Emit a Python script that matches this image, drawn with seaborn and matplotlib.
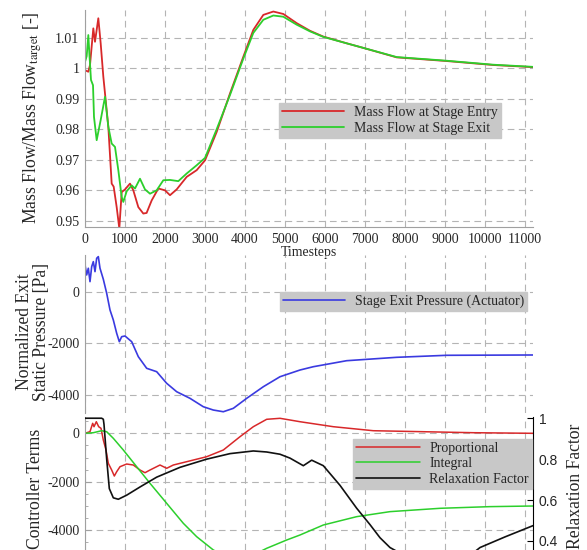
import numpy as np
import pandas as pd
import matplotlib
matplotlib.use("Agg")
import matplotlib.pyplot as plt
from matplotlib.ticker import MultipleLocator, AutoMinorLocator, FuncFormatter
import seaborn as sns

#%% data
# top panel: mass flow ratio
t_entry = [0, 83, 125, 208, 250, 333, 392, 458, 583, 667, 717, 792, 858, 917, 1000, 1125, 1208,
           1333, 1458, 1540, 1667, 1833, 2000, 2125, 2292, 2542, 2792, 3000, 3292, 3625, 3958,
           4208, 4458, 4708, 4958, 5292, 5625, 5958, 6542, 6958, 7792, 9042, 10208, 11200]
mf_entry = [0.9993, 0.9988, 1.001, 1.013, 1.0086, 1.0163, 1.0081, 0.9972, 0.9808, 0.9622, 0.9612,
            0.9545, 0.9475, 0.9594, 0.9603, 0.9622, 0.960, 0.9545, 0.9524, 0.9526, 0.9567, 0.9606,
            0.960, 0.9584, 0.9603, 0.9644, 0.9666, 0.9698, 0.9791, 0.9917, 1.0037, 1.0125, 1.0174,
            1.0185, 1.0177, 1.0147, 1.0122, 1.0103, 1.0081, 1.0066, 1.0035, 1.0023, 1.001, 1.0003]
t_exit = [0, 42, 83, 108, 150, 200, 225, 292, 392, 500, 583, 667, 750, 833, 917, 958, 1042, 1167,
          1250, 1375, 1500, 1625, 1792, 1958, 2125, 2333, 2542, 2792, 3000, 3292, 3625, 3958, 4208,
          4458, 4708, 4958, 5292, 5625, 5958, 6542, 6958, 7792, 9042, 10208, 11200]
mf_exit = [1.002, 1.0039, 1.0108, 1.005, 0.9961, 0.9944, 0.984, 0.9764, 0.983, 0.9906, 0.9808,
           0.9753, 0.9742, 0.9666, 0.9578, 0.9562, 0.9597, 0.9616, 0.9606, 0.9638, 0.9603, 0.9589,
           0.960, 0.9633, 0.9634, 0.963, 0.9655, 0.9682, 0.9706, 0.980, 0.9912, 1.0031, 1.0115,
           1.0158, 1.0172, 1.0168, 1.0142, 1.012, 1.0102, 1.0081, 1.0066, 1.0036, 1.0024, 1.0011, 1.0004]

# middle panel: exit static pressure
t_press = [0, 42, 83, 125, 167, 208, 250, 292, 333, 375, 458, 542, 625, 708, 792, 858, 917, 1000,
           1167, 1333, 1542, 1792, 2042, 2292, 2625, 2958, 3208, 3458, 3708, 4042, 4458, 4875, 5375,
           5708, 6542, 7792, 9042, 11200]
p_exit = [1035, 647, 907, 388, 969, 1163, 775, 1294, 1357, 907, 480, -62, -709, -1097, -1612, -1938,
          -1744, -1717, -1938, -2519, -2969, -3100, -3550, -3876, -4132, -4457, -4585, -4651, -4519,
          -4132, -3682, -3295, -3035, -2907, -2674, -2543, -2465, -2453]

# bottom panel: controller terms + relaxation factor
t_prop = [0, 125, 192, 225, 283, 342, 400, 458, 525, 583, 667, 733, 792, 875, 1042, 1208, 1375, 1500,
          1625, 1875, 2042, 2208, 2542, 3042, 3458, 3875, 4208, 4542, 4875, 5125, 5375, 6208, 7208,
          8458, 9708, 11200]
prop = [0, 69, 413, 273, 479, 273, 207, -277, -690, -1240, -1517, -1765, -1587, -1380, -1269, -1310,
        -1517, -1628, -1517, -1310, -1446, -1310, -1173, -967, -690, -140, 273, 579, 620, 550, 479,
        273, 107, 66, 25, 0]
t_int = [0, 208, 417, 542, 708, 958, 1292, 1625, 2042, 2458, 2792, 3208, 3600, 4000, 4542, 5042,
         5375, 5958, 6792, 7625, 8875, 10125, 11200]
integ = [0, 25, 107, 66, -207, -690, -1380, -2066, -2893, -3719, -4272, -4821, -5150, -5200, -4752,
         -4409, -4202, -3789, -3444, -3237, -3099, -3030, -3004]
t_relax = [0, 417, 458, 475, 542, 608, 708, 833, 1042, 1375, 1792, 2375, 3042, 3625, 4208, 4542,
           4875, 5125, 5458, 5667, 5958, 6375, 6792, 7125, 7375, 7625, 8250, 8900, 9500, 9875,
           10500, 11200]
relax = [1.0, 1.0, 0.995, 0.97, 0.80, 0.656, 0.611, 0.604, 0.624, 0.664, 0.712, 0.760, 0.80, 0.827,
         0.840, 0.835, 0.824, 0.805, 0.768, 0.795, 0.768, 0.672, 0.56, 0.48, 0.416, 0.368, 0.30,
         0.28, 0.31, 0.368, 0.42, 0.475]

RED, GREEN, BLUE, BLACK = '#d8282a', '#2ccf2c', '#3a3ae0', '#111111'
GRID = '#b4b4b4'

#%% style
sns.set_style('white')
plt.rcParams['font.family'] = ['Liberation Serif', 'DejaVu Serif']
plt.rcParams['mathtext.fontset'] = 'stix'
plt.rcParams['axes.unicode_minus'] = False

W, H = 587, 550
fig = plt.figure(figsize=(W / 100, H / 100), dpi=100)


def box(x0, y0, x1, y1):
    # pixel box (top-left origin) -> figure fraction rect
    return [x0 / W, 1 - y1 / H, (x1 - x0) / W, (y1 - y0) / H]


def style_axis(ax):
    ax.patch.set_visible(False)
    ax.grid(True, color=GRID, linestyle=(0, (6, 4)), linewidth=0.8)
    for s in ['top', 'right']:
        ax.spines[s].set_visible(False)
    for s in ['left', 'bottom']:
        ax.spines[s].set_color('#a0a0a0')
        ax.spines[s].set_linewidth(0.8)
    ax.xaxis.set_major_locator(MultipleLocator(1000))
    ax.xaxis.set_minor_locator(AutoMinorLocator(5))
    ax.yaxis.set_minor_locator(AutoMinorLocator(5))
    ax.tick_params(which='both', direction='in', color='#a0a0a0', labelsize=10, pad=4)
    ax.tick_params(which='major', length=4)
    ax.tick_params(which='minor', length=2)
    ax.set_xlim(0, 11200)


def legend(ax, x0, y0, handles=None, labels=None, hl=4.5, ls=0.22):
    kw = dict(loc='upper left', bbox_to_anchor=(x0 / W, 1 - y0 / H),
              bbox_transform=fig.transFigure, borderaxespad=0, borderpad=0.2,
              handlelength=hl, handletextpad=0.7, labelspacing=ls, fontsize=10,
              fancybox=False, framealpha=1, facecolor='#c8c8c8', edgecolor='#c8c8c8')
    if handles is None:
        return ax.legend(**kw)
    return ax.legend(handles, labels, **kw)


gfmt = FuncFormatter(lambda v, p: '%g' % round(v, 6))

#%% top panel
ax1 = fig.add_axes(box(85, 10, 533, 227))
style_axis(ax1)
sns.lineplot(x=t_entry, y=mf_entry, ax=ax1, color=RED, linewidth=1.3, label='Mass Flow at Stage Entry')
sns.lineplot(x=t_exit, y=mf_exit, ax=ax1, color=GREEN, linewidth=1.3, label='Mass Flow at Stage Exit')
ax1.set_ylim(0.948, 1.019)
ax1.yaxis.set_major_locator(MultipleLocator(0.01))
ax1.yaxis.set_minor_locator(AutoMinorLocator(4))
ax1.yaxis.set_major_formatter(gfmt)
ax1.set_xlabel('Timesteps', fontsize=10, labelpad=0)
legend(ax1, 279, 103)

#%% middle panel
ax2 = fig.add_axes(box(85, 255, 533, 413))
style_axis(ax2)
sns.lineplot(x=t_press, y=p_exit, ax=ax2, color=BLUE, linewidth=1.2, label='Stage Exit Pressure (Actuator)')
ax2.set_ylim(-4700, 1420)
ax2.yaxis.set_major_locator(MultipleLocator(2000))
ax2.yaxis.set_minor_locator(AutoMinorLocator(4))
ax2.tick_params(axis='x', labelbottom=False)
ax2.spines['bottom'].set_visible(False)
legend(ax2, 280, 292)

#%% bottom panel
ax3 = fig.add_axes(box(85, 417, 533, 550))
style_axis(ax3)
ax3.spines['bottom'].set_visible(False)
ax3.tick_params(axis='x', labelbottom=False)
ax4 = ax3.twinx()
ax4.patch.set_visible(False)
sns.lineplot(x=t_prop, y=prop, ax=ax3, color=RED, linewidth=1.1, label='Proportional')
sns.lineplot(x=t_int, y=integ, ax=ax3, color=GREEN, linewidth=1.1, label='Integral')
sns.lineplot(x=t_relax, y=relax, ax=ax4, color=BLACK, linewidth=1.2, label='Relaxation Factor')
ax3.set_ylim(-4822, 674)
ax3.yaxis.set_major_locator(MultipleLocator(2000))
ax3.yaxis.set_minor_locator(AutoMinorLocator(4))
ax4.set_ylim(0.356, 1.006)
ax4.set_xlim(0, 11200)
ax4.yaxis.set_major_locator(MultipleLocator(0.2))
ax4.yaxis.set_major_formatter(gfmt)
for s in ['top', 'left', 'bottom']:
    ax4.spines[s].set_visible(False)
ax4.spines['right'].set_color('black')
ax4.spines['right'].set_linewidth(0.8)
ax4.tick_params(direction='in', length=4, color='black', pad=4)
for lab in ax4.get_yticklabels():
    lab.set_fontfamily('Liberation Sans')
    lab.set_fontsize(10)
h1, l1 = ax3.get_legend_handles_labels()
h2, l2 = ax4.get_legend_handles_labels()
ax3.get_legend().remove()
legend(ax4, 353, 439, h1 + h2, l1 + l2, hl=4.6, ls=0.18)

#%% axis titles
fs = 12.7
fig.text(33 / W, 1 - 118 / H, 'Mass Flow/Mass Flow$_{\\mathrm{target}}$ [-]', rotation=90,
         ha='center', va='center', fontsize=fs)
fig.text(33 / W, 1 - 332 / H, 'Normalized Exit\nStatic Pressure [Pa]', rotation=90,
         ha='center', va='center', fontsize=fs, linespacing=1.0)
fig.text(35 / W, 1 - 489 / H, 'Controller Terms', rotation=90, ha='center', va='center', fontsize=fs)
fig.text(576 / W, 1 - 486 / H, 'Relaxation Factor', rotation=90, ha='center', va='center', fontsize=fs)

fig.savefig('out.png', dpi=100)
